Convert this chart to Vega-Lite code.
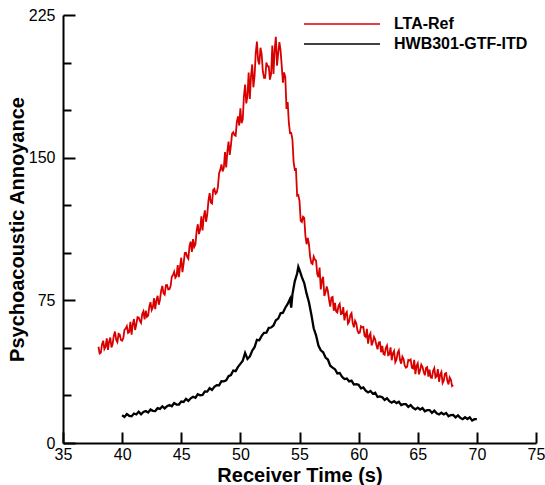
{
  "$schema": "https://vega.github.io/schema/vega-lite/v6.json",
  "width": 473,
  "height": 428,
  "autosize": {"type": "none"},
  "padding": {"left": 63, "top": 15, "right": 9, "bottom": 42},
  "background": "white",
  "config": {
    "view": {"stroke": null},
    "font": "Liberation Sans",
    "axis": {
      "grid": false,
      "domainColor": "black",
      "domainWidth": 2,
      "tickColor": "black",
      "tickWidth": 2,
      "labelColor": "black",
      "labelFont": "Liberation Sans",
      "labelFontSize": 16,
      "titleColor": "black",
      "titleFont": "Liberation Sans",
      "titleFontSize": 20,
      "titleFontWeight": "bold"
    }
  },
  "datasets": {
    "red": [
      {"t":38.0,"v":50.6},{"t":38.1,"v":47.0},{"t":38.2,"v":47.4},{"t":38.3,"v":51.8},{"t":38.4,"v":53.8},{"t":38.5,"v":49.4},{"t":38.6,"v":50.6},{"t":38.7,"v":55.0},{"t":38.8,"v":49.0},{"t":38.9,"v":53.4},
      {"t":39.0,"v":55.4},{"t":39.1,"v":50.2},{"t":39.2,"v":52.2},{"t":39.3,"v":56.6},{"t":39.4,"v":58.6},{"t":39.5,"v":54.2},{"t":39.6,"v":53.0},{"t":39.7,"v":57.4},{"t":39.8,"v":57.0},{"t":39.9,"v":54.2},
      {"t":40.0,"v":53.8},{"t":40.1,"v":55.1},{"t":40.2,"v":59.6},{"t":40.3,"v":60.1},{"t":40.4,"v":61.4},{"t":40.5,"v":57.9},{"t":40.6,"v":58.4},{"t":40.7,"v":63.7},{"t":40.8,"v":57.0},{"t":40.9,"v":62.3},
      {"t":41.0,"v":65.2},{"t":41.1,"v":59.4},{"t":41.2,"v":62.4},{"t":41.3,"v":66.2},{"t":41.4,"v":66.0},{"t":41.5,"v":64.2},{"t":41.6,"v":63.2},{"t":41.7,"v":67.8},{"t":41.8,"v":69.2},{"t":41.9,"v":65.0},
      {"t":42.0,"v":69.6},{"t":42.1,"v":66.3},{"t":42.2,"v":67.0},{"t":42.3,"v":71.7},{"t":42.4,"v":74.0},{"t":42.5,"v":69.9},{"t":42.6,"v":71.4},{"t":42.7,"v":76.1},{"t":42.8,"v":70.4},{"t":42.9,"v":75.1},
      {"t":43.0,"v":77.4},{"t":43.1,"v":72.7},{"t":43.2,"v":75.2},{"t":43.3,"v":80.1},{"t":43.4,"v":82.6},{"t":43.5,"v":78.7},{"t":43.6,"v":78.0},{"t":43.7,"v":82.9},{"t":43.8,"v":83.0},{"t":43.9,"v":80.7},
      {"t":44.0,"v":80.8},{"t":44.1,"v":82.5},{"t":44.2,"v":87.4},{"t":44.3,"v":88.3},{"t":44.4,"v":90.0},{"t":44.5,"v":86.9},{"t":44.6,"v":87.8},{"t":44.7,"v":93.5},{"t":44.8,"v":87.2},{"t":44.9,"v":92.9},
      {"t":45.0,"v":97.4},{"t":45.1,"v":89.8},{"t":45.2,"v":94.3},{"t":45.3,"v":99.9},{"t":45.4,"v":100.0},{"t":45.5,"v":97.9},{"t":45.6,"v":96.9},{"t":45.7,"v":103.6},{"t":45.8,"v":105.9},{"t":45.9,"v":100.5},
      {"t":46.0,"v":107.2},{"t":46.1,"v":103.1},{"t":46.2,"v":104.5},{"t":46.3,"v":111.4},{"t":46.4,"v":115.0},{"t":46.5,"v":109.8},{"t":46.6,"v":112.3},{"t":46.7,"v":119.2},{"t":46.8,"v":111.8},{"t":46.9,"v":118.7},
      {"t":47.0,"v":122.3},{"t":47.1,"v":116.3},{"t":47.2,"v":120.2},{"t":47.3,"v":127.4},{"t":47.4,"v":131.3},{"t":47.5,"v":126.4},{"t":47.6,"v":125.9},{"t":47.7,"v":133.1},{"t":47.8,"v":133.7},{"t":47.9,"v":131.0},
      {"t":48.0,"v":131.6},{"t":48.1,"v":134.5},{"t":48.2,"v":141.8},{"t":48.3,"v":143.6},{"t":48.4,"v":146.5},{"t":48.5,"v":142.8},{"t":48.6,"v":144.6},{"t":48.7,"v":153.0},{"t":48.8,"v":144.9},{"t":48.9,"v":153.3},
      {"t":49.0,"v":158.4},{"t":49.1,"v":151.4},{"t":49.2,"v":156.5},{"t":49.3,"v":162.7},{"t":49.4,"v":163.4},{"t":49.5,"v":161.9},{"t":49.6,"v":161.5},{"t":49.7,"v":168.8},{"t":49.8,"v":171.7},{"t":49.9,"v":166.9},
      {"t":50.0,"v":176.0},{"t":50.1,"v":168.1},{"t":50.2,"v":170.2},{"t":50.3,"v":182.3},{"t":50.4,"v":188.4},{"t":50.5,"v":178.5},{"t":50.6,"v":182.6},{"t":50.7,"v":194.7},{"t":50.8,"v":180.8},{"t":50.9,"v":192.9},
      {"t":51.0,"v":199.0},{"t":51.1,"v":187.0},{"t":51.2,"v":193.0},{"t":51.3,"v":205.0},{"t":51.4,"v":211.0},{"t":51.5,"v":201.0},{"t":51.6,"v":199.0},{"t":51.7,"v":207.8},{"t":51.8,"v":204.5},{"t":51.9,"v":195.3},
      {"t":52.0,"v":192.0},{"t":52.1,"v":192.0},{"t":52.2,"v":200.0},{"t":52.3,"v":198.0},{"t":52.4,"v":198.0},{"t":52.5,"v":191.0},{"t":52.6,"v":194.0},{"t":52.7,"v":209.0},{"t":52.8,"v":194.0},{"t":52.9,"v":206.8},
      {"t":53.0,"v":213.5},{"t":53.1,"v":198.3},{"t":53.2,"v":205.0},{"t":53.3,"v":210.7},{"t":53.4,"v":206.3},{"t":53.5,"v":198.0},{"t":53.6,"v":189.4},{"t":53.7,"v":194.8},{"t":53.8,"v":192.2},{"t":53.9,"v":175.6},
      {"t":54.0,"v":179.2},{"t":54.1,"v":168.3},{"t":54.2,"v":162.9},{"t":54.3,"v":163.0},{"t":54.4,"v":159.8},{"t":54.5,"v":147.8},{"t":54.6,"v":143.7},{"t":54.7,"v":144.0},{"t":54.8,"v":130.0},{"t":54.9,"v":130.3},
      {"t":55.0,"v":127.3},{"t":55.1,"v":116.8},{"t":55.2,"v":116.2},{"t":55.3,"v":118.9},{"t":55.4,"v":118.3},{"t":55.5,"v":108.9},{"t":55.6,"v":104.5},{"t":55.7,"v":107.8},{"t":55.8,"v":104.5},{"t":55.9,"v":97.9},
      {"t":56.0,"v":94.6},{"t":56.1,"v":94.1},{"t":56.2,"v":98.0},{"t":56.3,"v":96.4},{"t":56.4,"v":95.9},{"t":56.5,"v":88.8},{"t":56.6,"v":87.2},{"t":56.7,"v":92.2},{"t":56.8,"v":80.7},{"t":56.9,"v":85.7},
      {"t":57.0,"v":87.4},{"t":57.1,"v":77.3},{"t":57.2,"v":79.2},{"t":57.3,"v":82.3},{"t":57.4,"v":79.9},{"t":57.5,"v":75.2},{"t":57.6,"v":71.7},{"t":57.7,"v":76.5},{"t":57.8,"v":76.8},{"t":57.9,"v":69.5},
      {"t":58.0,"v":73.6},{"t":58.1,"v":69.1},{"t":58.2,"v":68.6},{"t":58.3,"v":72.1},{"t":58.4,"v":73.2},{"t":58.5,"v":67.8},{"t":58.6,"v":68.0},{"t":58.7,"v":71.4},{"t":58.8,"v":64.5},{"t":58.9,"v":67.9},
      {"t":59.0,"v":68.9},{"t":59.1,"v":62.8},{"t":59.2,"v":63.8},{"t":59.3,"v":67.3},{"t":59.4,"v":68.3},{"t":59.5,"v":63.0},{"t":59.6,"v":60.8},{"t":59.7,"v":64.3},{"t":59.8,"v":62.9},{"t":59.9,"v":59.2},
      {"t":60.0,"v":57.8},{"t":60.1,"v":58.0},{"t":60.2,"v":61.4},{"t":60.3,"v":60.8},{"t":60.4,"v":61.0},{"t":60.5,"v":56.4},{"t":60.6,"v":55.8},{"t":60.7,"v":60.0},{"t":60.8,"v":52.2},{"t":60.9,"v":56.4},
      {"t":61.0,"v":57.7},{"t":61.1,"v":51.3},{"t":61.2,"v":53.1},{"t":61.3,"v":55.8},{"t":61.4,"v":54.4},{"t":61.5,"v":51.5},{"t":61.6,"v":49.3},{"t":61.7,"v":52.8},{"t":61.8,"v":53.0},{"t":61.9,"v":47.7},
      {"t":62.0,"v":51.1},{"t":62.1,"v":46.8},{"t":62.2,"v":46.4},{"t":62.3,"v":50.1},{"t":62.4,"v":51.3},{"t":62.5,"v":46.2},{"t":62.6,"v":46.6},{"t":62.7,"v":50.3},{"t":62.8,"v":43.5},{"t":62.9,"v":47.2},
      {"t":63.0,"v":48.4},{"t":63.1,"v":42.5},{"t":63.2,"v":43.8},{"t":63.3,"v":47.4},{"t":63.4,"v":48.7},{"t":63.5,"v":43.6},{"t":63.6,"v":41.7},{"t":63.7,"v":45.4},{"t":63.8,"v":44.2},{"t":63.9,"v":40.7},
      {"t":64.0,"v":39.6},{"t":64.1,"v":40.1},{"t":64.2,"v":43.7},{"t":64.3,"v":43.4},{"t":64.4,"v":43.9},{"t":64.5,"v":39.6},{"t":64.6,"v":39.2},{"t":64.7,"v":43.7},{"t":64.8,"v":36.2},{"t":64.9,"v":40.6},
      {"t":65.0,"v":41.9},{"t":65.1,"v":36.1},{"t":65.2,"v":38.2},{"t":65.3,"v":41.2},{"t":65.4,"v":40.1},{"t":65.5,"v":37.5},{"t":65.6,"v":35.6},{"t":65.7,"v":39.4},{"t":65.8,"v":39.9},{"t":65.9,"v":34.9},
      {"t":66.0,"v":38.6},{"t":66.1,"v":34.4},{"t":66.2,"v":34.2},{"t":66.3,"v":38.0},{"t":66.4,"v":39.4},{"t":66.5,"v":34.4},{"t":66.6,"v":35.0},{"t":66.7,"v":38.8},{"t":66.8,"v":32.2},{"t":66.9,"v":36.0},
      {"t":67.0,"v":37.4},{"t":67.1,"v":31.5},{"t":67.2,"v":32.8},{"t":67.3,"v":36.5},{"t":67.4,"v":36.8},{"t":67.5,"v":32.7},{"t":67.6,"v":30.8},{"t":67.7,"v":34.5},{"t":67.8,"v":33.4},{"t":67.9,"v":29.9},
      {"t":68.0,"v":30.4}
    ],
    "black": [
      {"t":40.0,"v":14.6},{"t":40.2,"v":13.7},{"t":40.4,"v":15.2},{"t":40.6,"v":14.3},{"t":40.8,"v":14.1},
      {"t":41.0,"v":15.5},{"t":41.2,"v":15.0},{"t":41.4,"v":16.4},{"t":41.6,"v":15.1},{"t":41.8,"v":16.3},
      {"t":42.0,"v":16.8},{"t":42.2,"v":16.0},{"t":42.4,"v":17.6},{"t":42.6,"v":16.9},{"t":42.8,"v":16.8},
      {"t":43.0,"v":18.3},{"t":43.2,"v":17.9},{"t":43.4,"v":19.3},{"t":43.6,"v":18.2},{"t":43.8,"v":19.4},
      {"t":44.0,"v":20.0},{"t":44.2,"v":19.3},{"t":44.4,"v":21.0},{"t":44.6,"v":20.2},{"t":44.8,"v":20.2},
      {"t":45.0,"v":21.8},{"t":45.2,"v":21.6},{"t":45.4,"v":23.2},{"t":45.6,"v":22.1},{"t":45.8,"v":23.5},
      {"t":46.0,"v":24.3},{"t":46.2,"v":23.8},{"t":46.4,"v":25.7},{"t":46.6,"v":25.1},{"t":46.8,"v":25.3},
      {"t":47.0,"v":27.1},{"t":47.2,"v":27.0},{"t":47.4,"v":28.8},{"t":47.6,"v":27.9},{"t":47.8,"v":29.5},
      {"t":48.0,"v":30.4},{"t":48.2,"v":30.3},{"t":48.4,"v":32.5},{"t":48.6,"v":32.4},{"t":48.8,"v":32.9},
      {"t":49.0,"v":35.1},{"t":49.2,"v":35.7},{"t":49.4,"v":38.1},{"t":49.6,"v":37.8},{"t":49.8,"v":40.0},
      {"t":50.0,"v":41.6},{"t":50.2,"v":43.2},{"t":50.4,"v":47.3},{"t":50.6,"v":44.2},{"t":50.8,"v":45.5},
      {"t":51.0,"v":48.5},{"t":51.2,"v":50.4},{"t":51.4,"v":54.2},{"t":51.6,"v":54.0},{"t":51.8,"v":56.3},
      {"t":52.0,"v":57.9},{"t":52.2,"v":58.0},{"t":52.4,"v":60.5},{"t":52.6,"v":60.7},{"t":52.8,"v":61.8},
      {"t":53.0,"v":64.5},{"t":53.2,"v":65.4},{"t":53.4,"v":68.2},{"t":53.6,"v":68.5},{"t":53.8,"v":71.1},
      {"t":54.0,"v":73.1},{"t":54.2,"v":75.8},{"t":54.3,"v":71.2},{"t":54.4,"v":78.0},{"t":54.6,"v":85.0},
      {"t":54.8,"v":89.1},{"t":54.9,"v":92.6},{"t":55.0,"v":91.0},{"t":55.2,"v":87.2},{"t":55.4,"v":84.1},
      {"t":55.6,"v":78.5},{"t":55.8,"v":74.0},{"t":56.0,"v":67.6},{"t":56.2,"v":60.3},{"t":56.4,"v":56.6},
      {"t":56.6,"v":51.2},{"t":56.8,"v":48.7},{"t":57.0,"v":47.7},{"t":57.2,"v":44.9},{"t":57.4,"v":43.9},
      {"t":57.6,"v":40.6},{"t":57.8,"v":39.6},{"t":58.0,"v":38.8},{"t":58.2,"v":36.6},{"t":58.4,"v":36.8},
      {"t":58.6,"v":34.8},{"t":58.8,"v":33.6},{"t":59.0,"v":33.9},{"t":59.2,"v":32.4},{"t":59.4,"v":32.8},
      {"t":59.6,"v":30.7},{"t":59.8,"v":30.9},{"t":60.0,"v":30.6},{"t":60.2,"v":28.7},{"t":60.4,"v":29.2},
      {"t":60.6,"v":27.5},{"t":60.8,"v":26.6},{"t":61.0,"v":27.3},{"t":61.2,"v":25.9},{"t":61.4,"v":26.4},
      {"t":61.6,"v":24.2},{"t":61.8,"v":24.5},{"t":62.0,"v":24.1},{"t":62.2,"v":22.6},{"t":62.4,"v":23.5},
      {"t":62.6,"v":22.0},{"t":62.8,"v":21.2},{"t":63.0,"v":22.0},{"t":63.2,"v":21.0},{"t":63.4,"v":21.7},
      {"t":63.6,"v":19.9},{"t":63.8,"v":20.4},{"t":64.0,"v":20.4},{"t":64.2,"v":19.0},{"t":64.4,"v":19.9},
      {"t":64.6,"v":18.5},{"t":64.8,"v":17.7},{"t":65.0,"v":18.6},{"t":65.2,"v":17.6},{"t":65.4,"v":18.4},
      {"t":65.6,"v":16.7},{"t":65.8,"v":17.3},{"t":66.0,"v":17.3},{"t":66.2,"v":15.9},{"t":66.4,"v":17.0},
      {"t":66.6,"v":15.6},{"t":66.8,"v":15.0},{"t":67.0,"v":15.9},{"t":67.2,"v":15.0},{"t":67.4,"v":15.8},
      {"t":67.6,"v":14.1},{"t":67.8,"v":14.7},{"t":68.0,"v":14.8},{"t":68.2,"v":13.5},{"t":68.4,"v":14.5},
      {"t":68.6,"v":13.2},{"t":68.8,"v":12.5},{"t":69.0,"v":13.5},{"t":69.2,"v":12.6},{"t":69.4,"v":13.5},
      {"t":69.6,"v":11.8},{"t":69.8,"v":12.5},{"t":70.0,"v":12.6}
    ]
  },
  "layer": [
    {
      "data": {"name": "red"},
      "transform": [{"calculate": "'LTA-Ref'", "as": "series"}],
      "mark": {"type": "line", "strokeWidth": 1.8},
      "encoding": {
        "x": {"field": "t", "type": "quantitative"},
        "y": {"field": "v", "type": "quantitative"},
        "stroke": {"field": "series", "type": "nominal"}
      }
    },
    {
      "data": {"name": "black"},
      "transform": [{"calculate": "'HWB301-GTF-ITD'", "as": "series"}],
      "mark": {"type": "line", "strokeWidth": 2.3},
      "encoding": {
        "x": {
          "field": "t", "type": "quantitative",
          "scale": {"domain": [35, 75], "nice": false, "zero": false},
          "axis": {
            "title": "Receiver Time (s)",
            "values": [35, 40, 45, 50, 55, 60, 65, 70, 75],
            "tickSize": -11,
            "labelPadding": 14,
            "titlePadding": 3,
            "labelFlush": false
          }
        },
        "y": {
          "field": "v", "type": "quantitative",
          "scale": {"domain": [0, 225], "nice": false},
          "axis": {
            "title": "Psychoacoustic Annoyance",
            "values": [0, 25, 50, 75, 100, 125, 150, 175, 200, 225],
            "labelExpr": "datum.value % 75 === 0 ? datum.label : ''",
            "tickSize": {"condition": {"test": "datum.value % 75 === 0", "value": -12}, "value": -8},
            "labelPadding": 20,
            "titlePadding": 1,
            "labelFlush": false
          }
        },
        "stroke": {
          "field": "series", "type": "nominal",
          "scale": {"domain": ["LTA-Ref", "HWB301-GTF-ITD"], "range": ["#d90000", "#000000"]},
          "legend": {
            "title": null,
            "orient": "none",
            "legendX": 240,
            "legendY": -1,
            "padding": 0,
            "rowPadding": 0,
            "clipHeight": 20,
            "symbolType": "stroke",
            "symbolSize": 5776,
            "symbolStrokeWidth": 1.5,
            "labelOffset": 13,
            "labelFont": "Liberation Sans",
            "labelFontSize": 16,
            "labelFontWeight": "bold",
            "labelColor": "black"
          }
        }
      }
    }
  ]
}
